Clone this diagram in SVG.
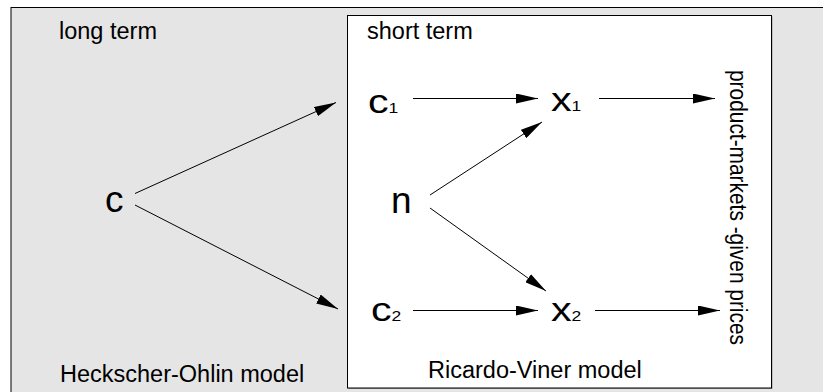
<svg xmlns="http://www.w3.org/2000/svg" width="823" height="392" viewBox="0 0 823 392">
<style>
text{font-family:"Liberation Sans",Arial,sans-serif;fill:#000}
.lbl{font-size:23.5px}
.big{font-size:37px}
.var{font-size:33px}
.sub{font-size:14px}
.conn line{stroke:#000;stroke-width:1;marker-end:url(#ah)}
</style>
<defs>
<marker id="ah" viewBox="0 0 22 10" refX="22" refY="5" markerWidth="22" markerHeight="10" markerUnits="userSpaceOnUse" orient="auto">
<path d="M0,0 L22,5 L0,10 Z" fill="#000"/>
</marker>
</defs>
<rect width="823" height="392" fill="#fff"/>
<g id="outer">
<rect x="11" y="7.5" width="900" height="500" fill="#e5e5e5" stroke="#000" stroke-width="1"/>
<text class="lbl" x="59" y="39">long term</text>
<text class="lbl" x="60" y="382">Heckscher-Ohlin model</text>
</g>
<g id="inner">
<rect x="348.5" y="16.5" width="424" height="372.5" fill="#999"/>
<rect x="347.5" y="15.5" width="424" height="372.5" fill="#fff" stroke="#000" stroke-width="1"/>
<text class="lbl" x="367" y="39">short term</text>
<text class="lbl" x="428" y="378">Ricardo-Viner model</text>
</g>
<g id="node-c"><text class="big" x="105" y="212">c</text></g>
<g id="node-n"><text class="big" x="391" y="213">n</text></g>
<g id="node-c1"><text class="var" transform="translate(368,113) scale(1.25,1)">c<tspan class="sub">1</tspan></text></g>
<g id="node-c2"><text class="var" transform="translate(371,321) scale(1.25,1)">c<tspan class="sub">2</tspan></text></g>
<g id="node-x1"><text class="var" transform="translate(551,111) scale(1.25,1)">x<tspan class="sub">1</tspan></text></g>
<g id="node-x2"><text class="var" transform="translate(551,321) scale(1.25,1)">x<tspan class="sub">2</tspan></text></g>
<g id="node-markets"><text class="lbl" transform="translate(730,70) rotate(90)" textLength="275" lengthAdjust="spacingAndGlyphs">product-markets -given prices</text></g>
<g id="connectors" class="conn">
<line x1="135" y1="193.5" x2="336" y2="102.5"/>
<line x1="135" y1="205" x2="338" y2="309"/>
<line x1="413" y1="98.5" x2="538" y2="98.5"/>
<line x1="599" y1="98.5" x2="715" y2="98.5"/>
<line x1="430" y1="195" x2="542" y2="122"/>
<line x1="430" y1="208" x2="546" y2="291"/>
<line x1="413" y1="310.5" x2="538" y2="310.5"/>
<line x1="595" y1="310.5" x2="720" y2="310.5"/>
</g>
</svg>
